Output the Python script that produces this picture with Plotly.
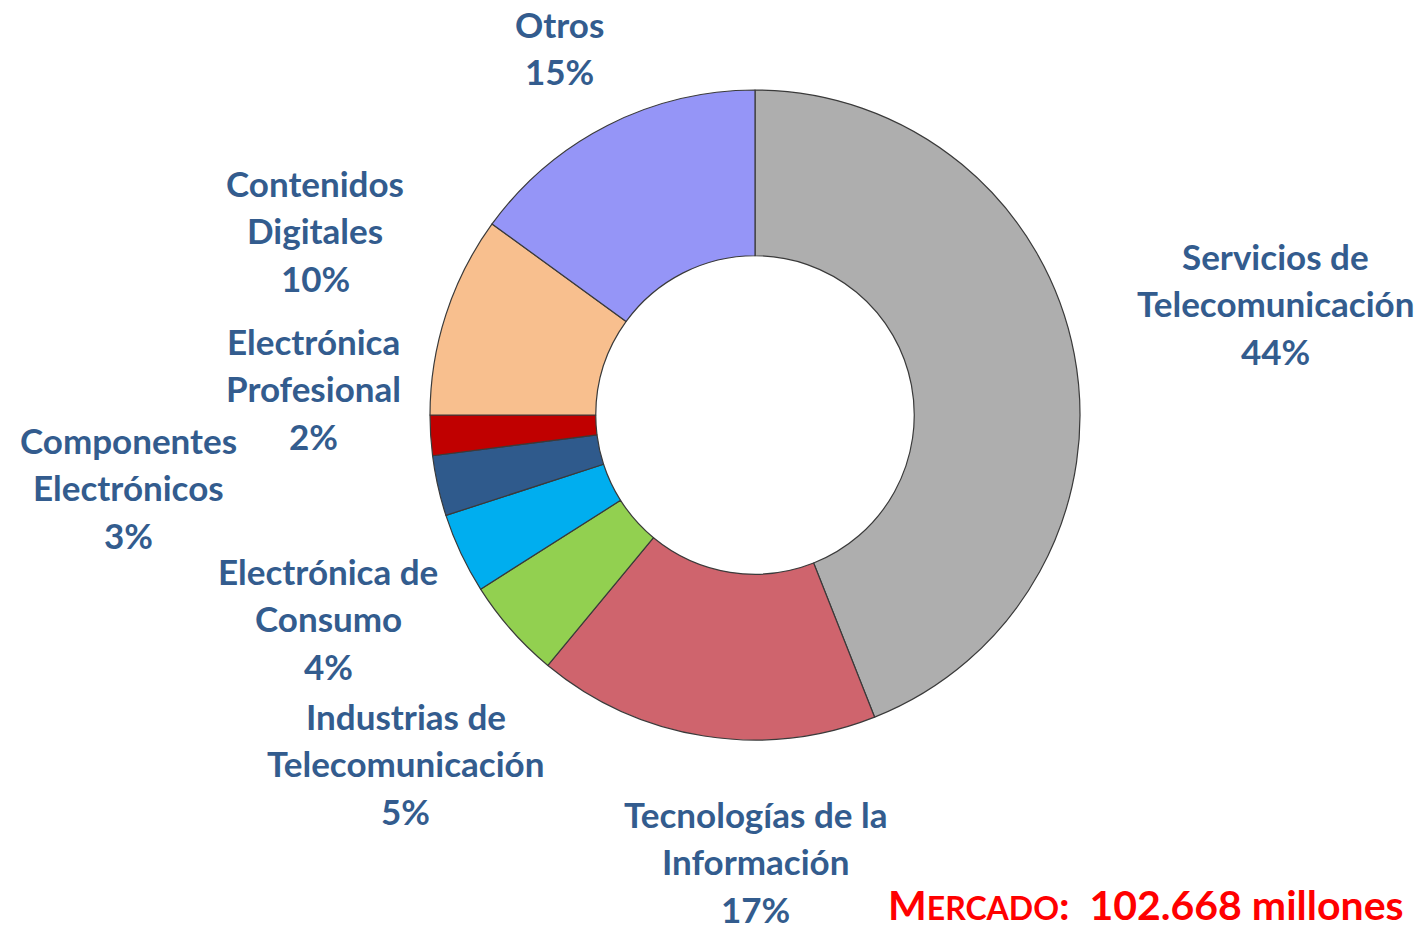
import plotly.graph_objects as go

categories = ["Servicios de<br>Telecomunicación", "Tecnologías de la<br>Información",
              "Industrias de<br>Telecomunicación", "Electrónica de<br>Consumo",
              "Componentes<br>Electrónicos", "Electrónica<br>Profesional",
              "Contenidos<br>Digitales", "Otros"]
values = [44, 17, 5, 4, 3, 2, 10, 15]
colors = ["#AEAEAE", "#CF646D", "#92D050", "#00AEEF", "#2F5A8C", "#C00000", "#F8BF8E", "#9595F7"]

# label anchor (center x px, first-line center y px) in screen pixels
label_pos = [(1275, 256), (755, 814), (406, 716), (328, 571), (128, 440), (313, 341), (315, 183), (559, 24)]
line_gap = 47.3

OFF = 8  # page body margin
W, H = 1415, 917
def px(x):
    return (x - OFF) / W
def py(y):
    return 1 - (y - OFF) / H

label_color = "#335C8E"
FONT = "Lato"

fig = go.Figure()
fig.add_trace(go.Pie(
    labels=[c.replace("<br>", " ") for c in categories], values=values,
    marker=dict(colors=colors, line=dict(color="#3A3A3A", width=1.2)),
    hole=0.49, sort=False, direction="clockwise", rotation=0,
    textinfo="none", hoverinfo="label+percent", showlegend=False,
    domain=dict(x=[px(430), px(1080)], y=[py(740), py(90)]),
))

annotations = []
for cat, val, (cx, cy) in zip(categories, values, label_pos):
    lines = cat.split("<br>") + [f"{val}%"]
    for i, ln in enumerate(lines):
        y = cy + i * line_gap
        annotations.append(dict(
            text=f"<b>{ln}</b>", x=px(cx), y=py(y), xref="paper", yref="paper",
            xanchor="center", yanchor="middle", showarrow=False,
            font=dict(family=FONT, size=35, color=label_color),
        ))

annotations.append(dict(
    text='<b>M<span style="font-size:32px">ERCADO</span>:  102.668 millones</b>',
    x=px(886), y=py(904), xref="paper", yref="paper",
    xanchor="left", yanchor="middle", showarrow=False,
    font=dict(family=FONT, size=41, color="#FF0000"),
))

fig.update_layout(
    width=W, height=H, margin=dict(l=0, r=0, t=0, b=0),
    paper_bgcolor="white", plot_bgcolor="white",
    annotations=annotations,
)
fig.write_html("out.html")
